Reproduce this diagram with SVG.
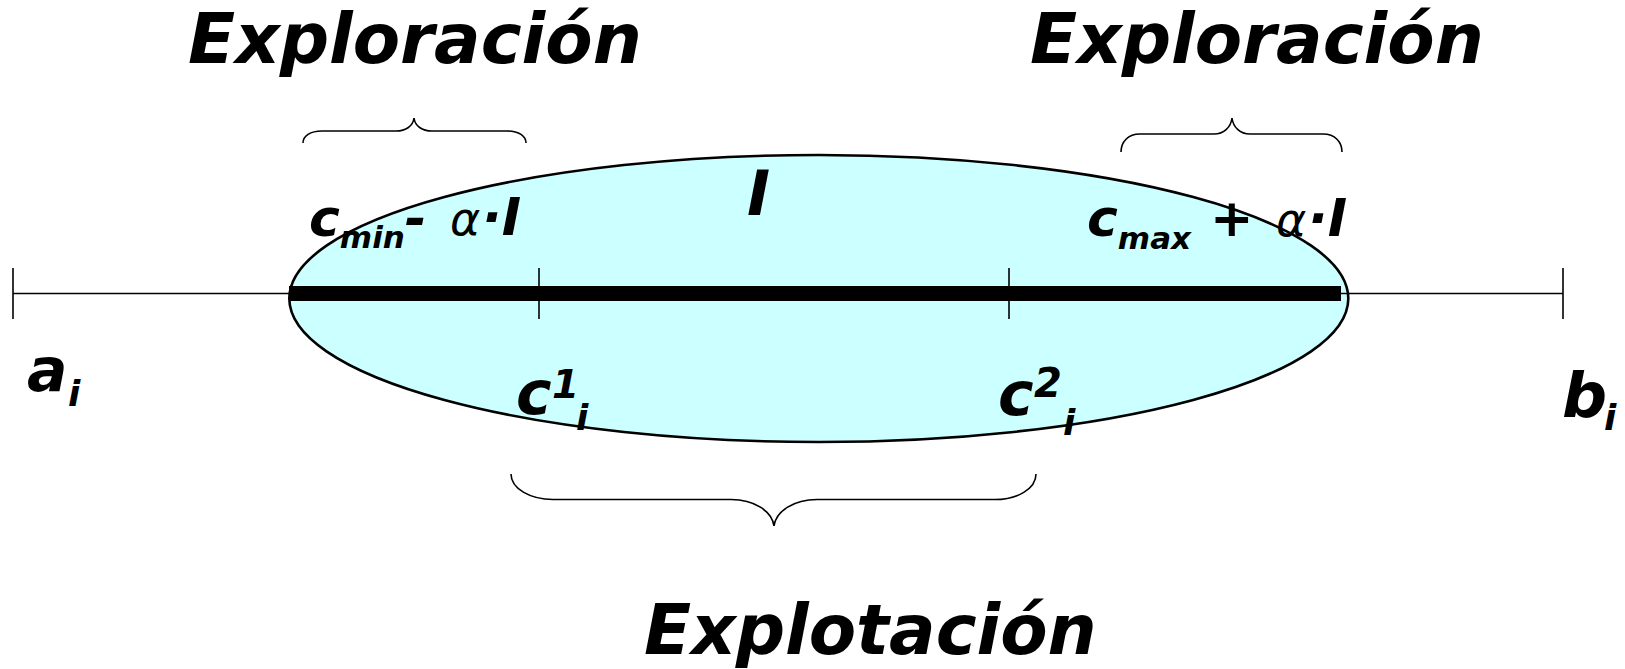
<svg xmlns="http://www.w3.org/2000/svg" width="1625" height="669" viewBox="0 0 1625 669">
<style>
.t{font-family:"DejaVu Sans",sans-serif;font-weight:bold;font-style:oblique;fill:#000}
.big{font-size:69px}
.lab{font-size:52px}
.sub{font-size:31px}
.al{font-family:"DejaVu Sans",sans-serif;font-style:oblique;font-weight:normal;font-size:46px}
.br{fill:none;stroke:#000;stroke-width:1.6}
.ln{stroke:#000;stroke-width:1.6;fill:none}
</style>
<rect width="1625" height="669" fill="#fff"/>
<g id="interval">
<ellipse cx="818.8" cy="298.5" rx="529.5" ry="143.5" fill="#ccffff" stroke="#000" stroke-width="2.6"/>
<line class="ln" x1="13" y1="293.5" x2="1563" y2="293.5"/>
<line class="ln" x1="13" y1="268" x2="13" y2="319"/>
<line class="ln" x1="1563" y1="268" x2="1563" y2="319"/>
<line class="ln" x1="539" y1="268" x2="539" y2="319"/>
<line class="ln" x1="1009" y1="268" x2="1009" y2="319"/>
<line x1="289" y1="293.5" x2="1341" y2="293.5" stroke="#000" stroke-width="15"/>
</g>
<g id="braces">
<path class="br" d="M303,143 C303,136 310,131 322,131 L396,131 C406,131 413,126 414,118 C415,126 422,131 432,131 L507,131 C519,131 526,136 526,143"/>
<path class="br" d="M1121,152 C1121,142 1128,134 1140,134 L1214,134 C1224,134 1231,127 1232,118 C1233,127 1240,134 1250,134 L1323,134 C1335,134 1342,142 1342,152"/>
<path class="br" d="M511,474 C511,489 531,499.5 553,499.5 L731,499.5 C754,499.5 772,511 774,526 C776,511 794,499.5 817,499.5 L995,499.5 C1017,499.5 1036,489 1036,474"/>
</g>
<g id="labels">
<text class="t big" x="188" y="63">Exploración</text>
<text class="t big" x="1030" y="63">Exploración</text>
<text class="t big" x="644" y="654">Explotación</text>
<text class="t" font-size="62" x="747" y="215">I</text>
<text x="309" y="236"><tspan class="t lab">c</tspan><tspan class="t sub" dy="12">min</tspan><tspan class="t lab" dy="-12">-</tspan></text>
<text class="al" x="450" y="235">α</text>
<text class="t lab" x="482" y="235">·I</text>
<text x="1087" y="236"><tspan class="t lab">c</tspan><tspan class="t sub" dy="13">max</tspan></text>
<text class="t lab" x="1210" y="236">+</text>
<text class="al" x="1276" y="236">α</text>
<text class="t lab" x="1308" y="236">·I</text>
<text class="t" font-size="60" x="27" y="391">a</text>
<text class="t" font-size="36" x="68" y="406">i</text>
<text class="t" font-size="63" x="1562" y="417">b</text>
<text class="t" font-size="36" x="1604" y="430">i</text>
<text class="t" font-size="60" x="516" y="414">c</text>
<text class="t" font-size="39" x="552" y="398">1</text>
<text class="t" font-size="36" x="576" y="430">i</text>
<text class="t" font-size="60" x="998" y="415">c</text>
<text class="t" font-size="40" x="1034" y="397">2</text>
<text class="t" font-size="36" x="1063" y="435">i</text>
</g>
</svg>
